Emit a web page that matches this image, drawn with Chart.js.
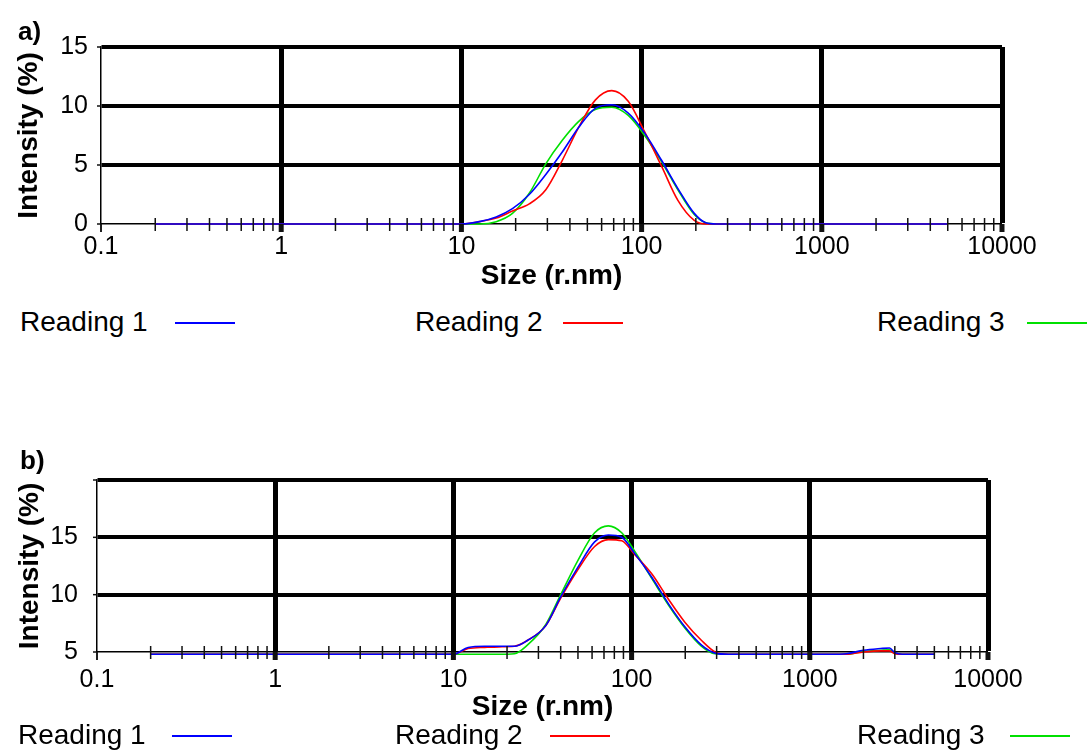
<!DOCTYPE html>
<html>
<head>
<meta charset="utf-8">
<script src="https://cdn.jsdelivr.net/npm/chart.js@4.4.1/dist/chart.umd.min.js"></script>
<style>
  body { margin: 0; width: 1089px; height: 751px; background: #fff; position: relative; overflow: hidden;
         font-family: "Liberation Sans", Arial, sans-serif; color: #000; }
  canvas { position: absolute; left: 0; }
  #chartA { top: 0; }
  #chartB { top: 440px; }
  .panel { position: absolute; font-weight: bold; font-size: 26px; line-height: 26px; }
  .legend { position: absolute; font-size: 28px; line-height: 28px; white-space: nowrap; }
  .swatch { position: absolute; height: 2px; width: 60px; }
</style>
</head>
<body>
<canvas id="chartA" width="1089" height="300"></canvas>
<canvas id="chartB" width="1089" height="290"></canvas>
<div class="panel" style="left:18px; top:18px;">a)</div>
<div class="panel" style="left:20px; top:447px;">b)</div>
<div id="legends"></div>
<script>
const FONT = '"Liberation Sans", Arial, sans-serif';

// legend labels + colours
const readings = ["Reading 1", "Reading 2", "Reading 3"];
const colors = ["#0000ff", "#ff0000", "#00e000"];

// y tick labels that are actually printed
const yLabelsA = [0, 5, 10, 15];
const yLabelsB = [5, 10, 15];

// panel a) sizes (nm) and intensities (%)
const sizesA = [0.2, 9, 10, 12.6, 15.6, 19.2, 23.8, 29.4, 36.3, 44.8, 55.3, 68.3, 84.3, 104, 129, 159, 196, 227, 260, 5000];
const reading1A = [0, 0, 0, 0.2, 0.6, 1.3, 2.5, 4.2, 6.1, 8.2, 9.8, 10.1, 9.4, 7.7, 5.4, 3.0, 0.9, 0.1, 0, 0];
const reading2A = [0, 0, 0, 0.2, 0.5, 1.1, 1.7, 2.9, 5.4, 8.2, 10.5, 11.3, 10.4, 7.8, 4.9, 2.0, 0.3, 0, 0, 0];
const reading3A = [0, 0, 0, 0, 0.2, 0.9, 2.6, 5.1, 7.1, 8.7, 9.7, 9.9, 9.2, 7.5, 5.3, 2.9, 0.8, 0.1, 0, 0];

// panel b) sizes (nm) and intensities (%)
const sizesB = [0.2, 9, 10, 12.1, 15, 18, 22, 26, 33, 40, 50, 62, 74, 88, 104, 130, 161, 199, 247, 294, 349, 1000, 1300, 1600, 2000, 2500, 2800, 3000, 3300, 5000];
const reading1B = [4.8, 4.8, 4.8, 5.4, 5.5, 5.5, 5.5, 6.0, 7.3, 9.8, 12.4, 14.6, 15.2, 15.0, 13.6, 11.5, 9.2, 7.2, 5.6, 4.9, 4.8, 4.8, 4.8, 4.85, 5.15, 5.3, 5.35, 4.95, 4.8, 4.8];
const reading2B = [4.8, 4.8, 4.8, 5.3, 5.4, 5.45, 5.5, 6.0, 7.3, 9.7, 12.2, 14.2, 14.8, 14.7, 13.5, 11.8, 9.6, 7.6, 6.0, 5.0, 4.8, 4.8, 4.8, 4.8, 5.0, 5.1, 5.1, 4.85, 4.8, 4.8];
const reading3B = [4.8, 4.8, 4.8, 4.8, 4.8, 4.8, 4.85, 5.6, 7.4, 10.0, 13.0, 15.4, 16.0, 15.4, 13.8, 11.4, 9.1, 7.1, 5.5, 4.85, 4.8, 4.8, 4.8, 4.8, 5.05, 5.15, 5.2, 4.9, 4.8, 4.8];

function isDecade(v) {
  const l = Math.log10(v);
  return Math.abs(l - Math.round(l)) < 1e-9;
}

// drop the 1.5, 15, 150... ticks chart.js adds, keep 1..9 per decade
function isWholeStep(v) {
  const s = v / Math.pow(10, Math.floor(Math.log10(v) + 1e-9));
  return Math.abs(s - Math.round(s)) < 1e-6;
}

// small tick marks on the axes (minor ones cross the x axis)
const axisTicks = {
  id: "axisTicks",
  afterDatasetsDraw(chart) {
    const { ctx, scales: { x, y } } = chart;
    ctx.save();
    ctx.strokeStyle = "#111";
    x.ticks.forEach((t) => {
      const px = x.getPixelForValue(t.value);
      ctx.beginPath();
      if (isDecade(t.value)) {
        ctx.lineWidth = t.value > x.min ? 5 : 1.5;
        ctx.moveTo(px, y.bottom);
        ctx.lineTo(px, y.bottom + 8);
      } else {
        ctx.lineWidth = 1.5;
        ctx.moveTo(px, y.bottom - 6);
        ctx.lineTo(px, y.bottom + 7);
      }
      ctx.stroke();
    });
    ctx.lineWidth = 1.5;
    y.ticks.forEach((t) => {
      const py = y.getPixelForValue(t.value);
      ctx.beginPath();
      ctx.moveTo(x.left - 4, py);
      ctx.lineTo(t.value % 5 === 0 ? x.left : x.left + 14, py);
      ctx.stroke();
    });
    // left axis runs a little below the x axis
    ctx.beginPath();
    ctx.moveTo(x.left, y.bottom);
    ctx.lineTo(x.left, y.bottom + 8);
    ctx.stroke();
    ctx.restore();
  },
};

function makeChart(id, sizes, series, yMin, yMax, yLabels, box) {
  const datasets = series.map((vals, i) => ({
    label: readings[i],
    data: sizes.map((s, j) => ({ x: s, y: vals[j] })),
    borderColor: colors[i],
    borderWidth: 1.6,
    pointRadius: 0,
    cubicInterpolationMode: "monotone",
    clip: false,
  }));

  return new Chart(document.getElementById(id), {
    type: "line",
    data: { datasets },
    plugins: [axisTicks],
    options: {
      responsive: false,
      animation: false,
      layout: { padding: { top: box.top, right: box.right, left: 0, bottom: 0 } },
      plugins: { legend: { display: false }, tooltip: { enabled: false } },
      scales: {
        x: {
          type: "logarithmic",
          min: 0.1,
          max: 10000,
          afterBuildTicks: (s) => { s.ticks = s.ticks.filter((t) => isWholeStep(t.value)); },
          afterFit: (s) => { s.height = box.xHeight; },
          border: { color: "#000", width: 1.5 },
          grid: {
            drawTicks: false,
            color: (c) => (isDecade(c.tick.value) && c.tick.value > 0.1 ? "#000" : "rgba(0,0,0,0)"),
            lineWidth: (c) => (isDecade(c.tick.value) && c.tick.value > 0.1 ? 5 : 0),
          },
          ticks: {
            autoSkip: false,
            maxRotation: 0,
            padding: box.xTickPad,
            color: "#000",
            font: { family: FONT, size: 25 },
            callback: (v) => (isDecade(v) ? String(+(+v).toPrecision(1)) : ""),
          },
          title: {
            display: true,
            text: "Size (r.nm)",
            color: "#000",
            font: { family: FONT, size: 28, weight: "bold" },
            padding: { top: 0, bottom: box.xTitlePad },
          },
        },
        y: {
          min: yMin,
          max: yMax,
          afterFit: (s) => { s.width = box.yWidth; },
          border: { color: "#000", width: 1.5 },
          grid: {
            drawTicks: false,
            color: (c) => (c.tick.value % 5 === 0 && c.tick.value > yMin ? "#000" : "rgba(0,0,0,0)"),
            lineWidth: (c) => (c.tick.value % 5 === 0 && c.tick.value > yMin ? 4 : 0),
          },
          ticks: {
            stepSize: 2.5,
            padding: box.yTickPad,
            color: "#000",
            font: { family: FONT, size: 25 },
            callback: (v) => (yLabels.includes(v) ? String(v) : ""),
          },
          title: {
            display: true,
            text: "Intensity (%)",
            color: "#000",
            font: { family: FONT, size: 28, weight: "bold" },
            padding: { top: box.yTitlePad, bottom: 0 },
          },
        },
      },
    },
  });
}

makeChart("chartA", sizesA, [reading1A, reading2A, reading3A], 0, 15, yLabelsA,
  { top: 47, right: 87, xHeight: 76, yWidth: 101, xTickPad: 8, yTickPad: 13, xTitlePad: 7, yTitlePad: 12 });
makeChart("chartB", sizesB, [reading1B, reading2B, reading3B], 5, 20, yLabelsB,
  { top: 40, right: 101, xHeight: 78, yWidth: 97, xTickPad: 13, yTickPad: 19, xTitlePad: 6, yTitlePad: 13 });

// legends: text then a short coloured line, one row under each panel
const legendRows = [
  { top: 308, text: [20, 415, 877], line: [175, 563, 1027] },
  { top: 721, text: [18, 395, 857], line: [172, 550, 1010] },
];
const holder = document.getElementById("legends");
legendRows.forEach((row) => {
  readings.forEach((name, i) => {
    const t = document.createElement("div");
    t.className = "legend";
    t.textContent = name;
    t.style.left = row.text[i] + "px";
    t.style.top = row.top + "px";
    holder.appendChild(t);
    const l = document.createElement("div");
    l.className = "swatch";
    l.style.left = row.line[i] + "px";
    l.style.top = row.top + 14 + "px";
    l.style.background = colors[i];
    holder.appendChild(l);
  });
});
</script>
</body>
</html>
